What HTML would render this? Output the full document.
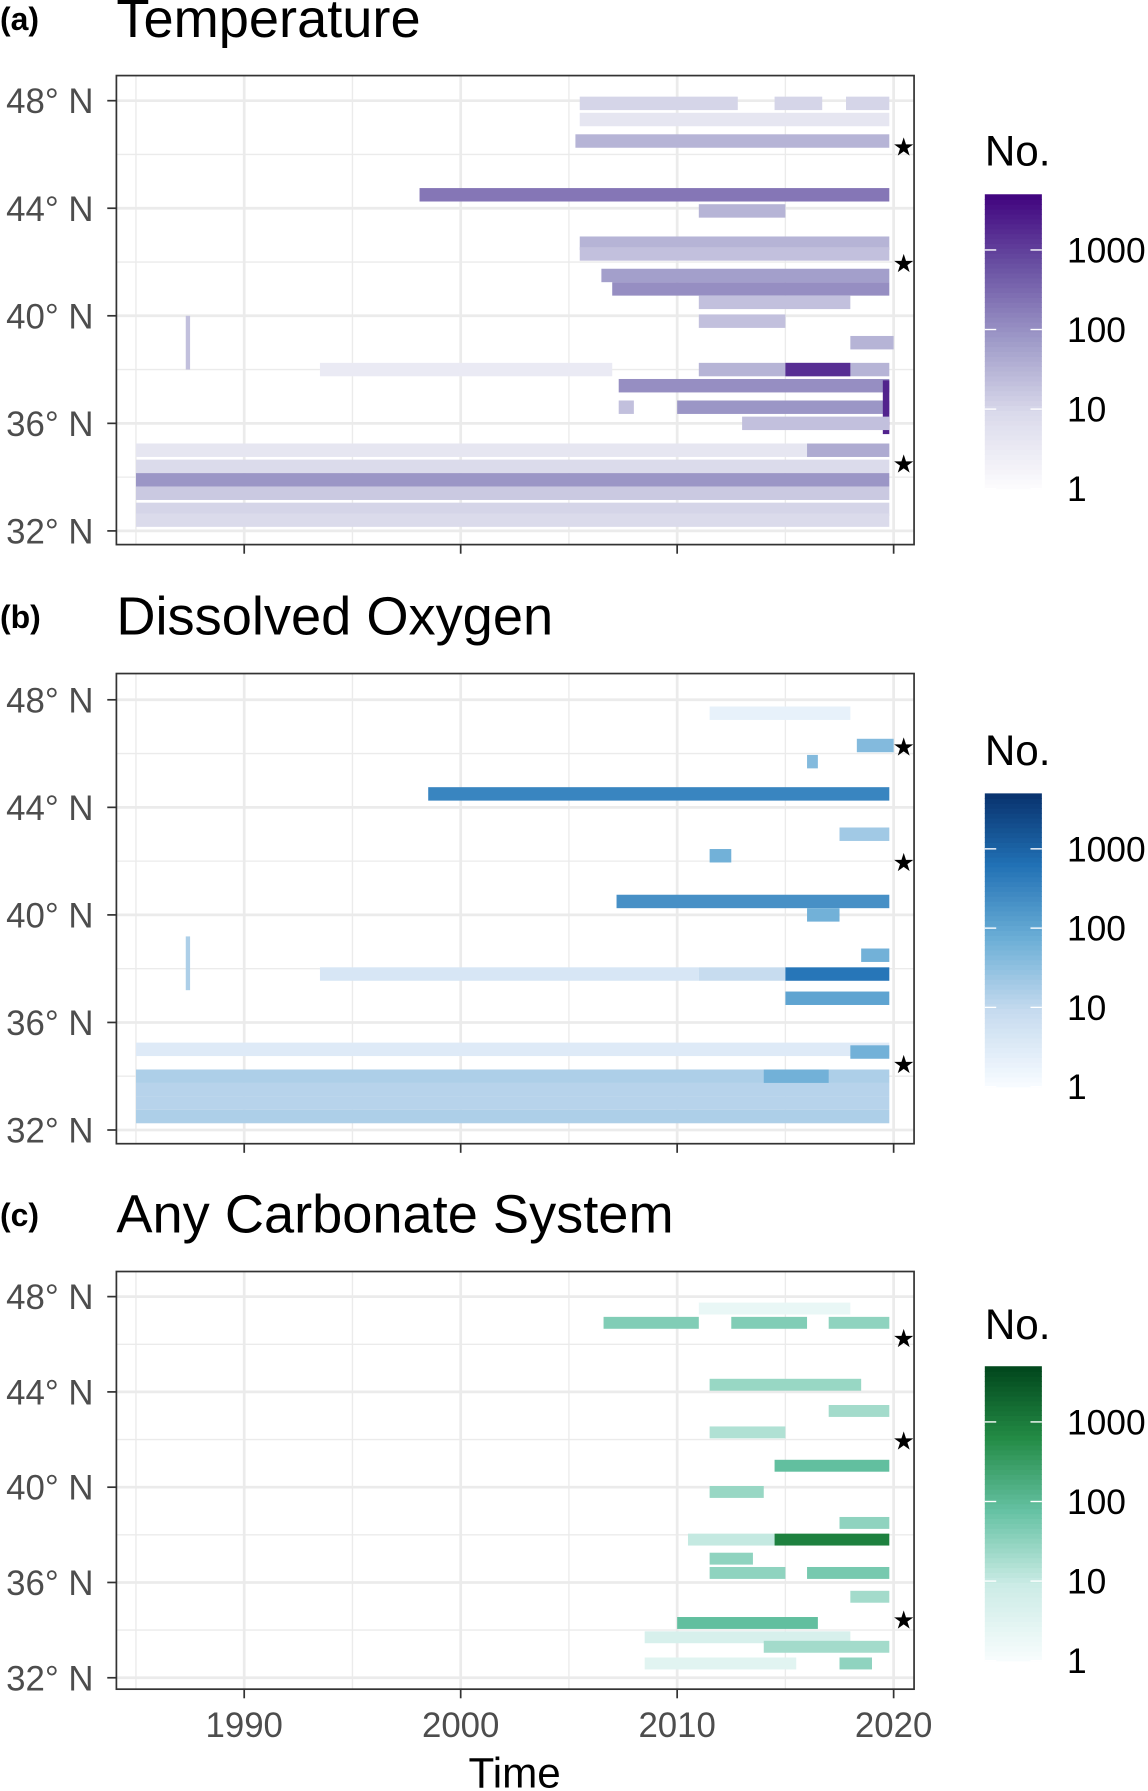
<!DOCTYPE html>
<html><head><meta charset="utf-8">
<style>
html,body{margin:0;padding:0;background:#fff;}
svg{display:block;font-family:"Liberation Sans",sans-serif;}
</style></head>
<body>
<svg id="fig" width="1148" height="1791" viewBox="0 0 1006 1569" xmlns="http://www.w3.org/2000/svg"></svg>
<script>
// Panel data: rows of [latitude, startYear, endYear, count]
const tempRows = [
 [47.9,2005.5,2012.8,10],[47.9,2014.5,2016.7,10],[47.9,2017.8,2019.8,10],
 [47.3,2005.5,2019.8,4],[46.5,2005.3,2019.8,30],[44.5,1998.1,2019.8,200],
 [43.9,2011,2015,30],[42.7,2005.5,2019.8,30],[42.3,2005.5,2019.8,20],
 [41.5,2006.5,2019.8,60],[41.0,2007,2019.8,100],[40.5,2011,2018,20],
 [39.8,2011,2015,20],[39.0,2018,2020,30],[38.0,1993.5,2007,3],
 [38.0,2011,2019.8,30],[38.0,2015,2018,1500],[37.4,2007.3,2019.8,100],
 [36.6,2007.3,2008,20],[36.6,2010,2019.8,80],[36.6,2019.5,2019.8,2000],
 [36.0,2013,2019.8,20],[35.0,1985,2019.8,4],[35.0,2016,2019.8,40],
 [34.4,1985,2019.8,8],[33.9,1985,2019.8,80],[33.4,1985,2019.8,15],
 [32.8,1985,2019.8,10],[32.4,1985,2019.8,8],[39.0,1987.3,1987.5,20]
];
const doRows = [
 [47.5,2011.5,2018,2],[46.3,2018.3,2020,40],[45.7,2016,2016.5,40],
 [44.5,1998.5,2019.8,300],[42.2,2011.5,2012.5,60],[43,2017.5,2019.8,20],
 [40.5,2007.2,2019.8,200],[40,2016,2017.5,60],[38.5,2018.5,2019.8,60],
 [37.8,1993.5,2011,4],[37.8,2011,2015,8],[37.8,2015,2019.8,500],
 [36.9,2015,2019.8,100],[35.0,1985,2019.8,3],[34.0,1985,2019.8,15],
 [34.0,2014,2017,60],[33.5,1985,2019.8,12],[33.0,1985,2019.8,12],
 [32.5,1985,2019.8,15],[34.9,2018,2019.8,60],[38.2,1987.3,1987.5,15]
];
const carbRows = [
 [47.5,2011,2018,2],[46.9,2006.6,2011,40],[46.9,2012.5,2016,40],[46.9,2017,2019.8,30],
 [44.3,2011.5,2018.5,25],[43.2,2017,2019.8,20],[42.3,2011.5,2015,15],
 [40.9,2014.5,2019.8,80],[39.8,2011.5,2014,25],[38.5,2017.5,2019.8,30],
 [37.8,2010.5,2014.5,10],[37.8,2014.5,2019.8,800],[37,2011.5,2013.5,30],
 [36.4,2011.5,2015,30],[36.4,2016,2019.8,50],[35.4,2018,2019.8,20],
 [34.3,2010,2016.5,80],[33.7,2008.5,2018,5],[33.3,2014,2019.8,20],
 [32.6,2008.5,2015.5,3],[32.6,2017.5,2019,30]
];
const latTicks = [48,44,40,36,32];
const yearTicks = [1990,2000,2010,2020];
const legendTicks = [1,10,100,1000];

const NS="http://www.w3.org/2000/svg";
const svg=document.getElementById('fig');
function el(tag,attrs,parent){const e=document.createElementNS(NS,tag);for(const k in attrs)e.setAttribute(k,attrs[k]);(parent||svg).appendChild(e);return e;}
function txt(s,attrs,parent){const e=el('text',attrs,parent);e.textContent=s;return e;}
function hex(c){return [1,3,5].map(i=>parseInt(c.substr(i,2),16));}
function ramp(cols,t){t=Math.max(0,Math.min(1,t));const n=cols.length-1;const i=Math.min(n-1,Math.floor(t*n));const f=t*n-i;const a=hex(cols[i]),b=hex(cols[i+1]);return 'rgb('+a.map((v,j)=>Math.round(v+(b[j]-v)*f)).join(',')+')';}
const xScale=yr=>214+(yr-1990)*18.97;
const LMAX=3.7;

const panels=[
 {label:'(a)',title:'Temperature',rows:tempRows,top:66,bot:477,y48:88,y32:465,cols:['#fcfbfd','#dadaeb','#9e9ac8','#6a51a3','#3f007d'],stars:[128,230,406],leg:{no:132,t:170,b:428},name:'temperature'},
 {label:'(b)',title:'Dissolved Oxygen',rows:doRows,top:590,bot:1002,y48:613,y32:990,cols:['#f7fbff','#c6dbef','#6baed6','#2171b5','#08306b'],stars:[654,755,932],leg:{no:657,t:695,b:952},name:'dissolved-oxygen'},
 {label:'(c)',title:'Any Carbonate System',rows:carbRows,top:1114,bot:1480,y48:1136,y32:1470,cols:['#f7fcfd','#ccece6','#66c2a4','#238b45','#00441b'],stars:[1172,1262,1419],leg:{no:1160,t:1197,b:1455},name:'carbonate-system'}
];

panels.forEach((p,pi)=>{
 const g=el('g',{});
 
 
 const yS=lat=>p.y32-(lat-32)*(p.y32-p.y48)/16;
 const lab=txt(p.label,{x:0,y:p.top-40,'font-size':28,'font-weight':'bold',fill:'#000'},g);
 
 const ti=txt(p.title,{x:102,y:p.top-34,'font-size':47.5,fill:'#000'},g);
 
 [46,42,38,34].forEach(l=>el('line',{x1:102,x2:801,y1:yS(l),y2:yS(l),stroke:'#ebebeb','stroke-width':1.2},g));
 [1985,1995,2005,2015].forEach(y=>el('line',{x1:xScale(y),x2:xScale(y),y1:p.top,y2:p.bot,stroke:'#ebebeb','stroke-width':1.2},g));
 latTicks.forEach(l=>el('line',{x1:102,x2:801,y1:yS(l),y2:yS(l),stroke:'#ebebeb','stroke-width':2.4},g));
 yearTicks.forEach(y=>el('line',{x1:xScale(y),x2:xScale(y),y1:p.top,y2:p.bot,stroke:'#ebebeb','stroke-width':2.4},g));
 const h=(p.y32-p.y48)/16*0.5;
 p.rows.forEach(r=>{
  const big=(r[2]-r[1])<0.5;
  const y0=yS(r[0]);const hh=big?h*4:h;
  const c=el('rect',{x:xScale(r[1]),y:y0-hh/2,width:Math.max(2,xScale(r[2])-xScale(r[1])),height:hh,fill:ramp(p.cols,Math.log10(r[3])/LMAX)},g);
  
  
 });
 const fr=el('rect',{x:102,y:p.top,width:699,height:p.bot-p.top,fill:'none',stroke:'#333','stroke-width':1.5},g);
 
 latTicks.forEach(l=>{
  el('line',{x1:94,x2:102,y1:yS(l),y2:yS(l),stroke:'#333','stroke-width':1.5},g);
  const t=txt(l+'° N',{x:82,y:yS(l)+11,'font-size':30.5,fill:'#4d4d4d','text-anchor':'end'},g);
  
 });
 yearTicks.forEach(y=>{
  el('line',{x1:xScale(y),x2:xScale(y),y1:p.bot,y2:p.bot+8,stroke:'#333','stroke-width':1.5},g);
  if(pi===2){const t=txt(y,{x:xScale(y),y:p.bot+42,'font-size':30.5,fill:'#4d4d4d','text-anchor':'middle'},g);
   }
 });
 p.stars.forEach(sy=>{const s=txt('★',{x:792,y:sy+8,'font-size':22,fill:'#000','text-anchor':'middle'},g);
  });
 const L=p.leg;
 const nt=txt('No.',{x:863,y:L.no+13,'font-size':37,fill:'#000'},g);
 
 const N=60;
 for(let i=0;i<N;i++){
  const t0=i/N;
  el('rect',{x:863,y:L.b-(i+1)*(L.b-L.t)/N,width:50,height:(L.b-L.t)/N+0.6,fill:ramp(p.cols,t0*(3.7/LMAX))},g);
 }
 const dec=(L.b-L.t)/3.7;
 legendTicks.forEach(v=>{
  const yy=L.b-Math.log10(v)*dec;
  el('line',{x1:863,x2:873,y1:yy,y2:yy,stroke:'#fff','stroke-width':1.2},g);
  el('line',{x1:903,x2:913,y1:yy,y2:yy,stroke:'#fff','stroke-width':1.2},g);
  const t=txt(v,{x:935,y:yy+11,'font-size':31,fill:'#000'},g);
  
 });
});
const xt=txt('Time',{x:451,y:1566,'font-size':37,fill:'#000','text-anchor':'middle'});

</script>
</body></html>
